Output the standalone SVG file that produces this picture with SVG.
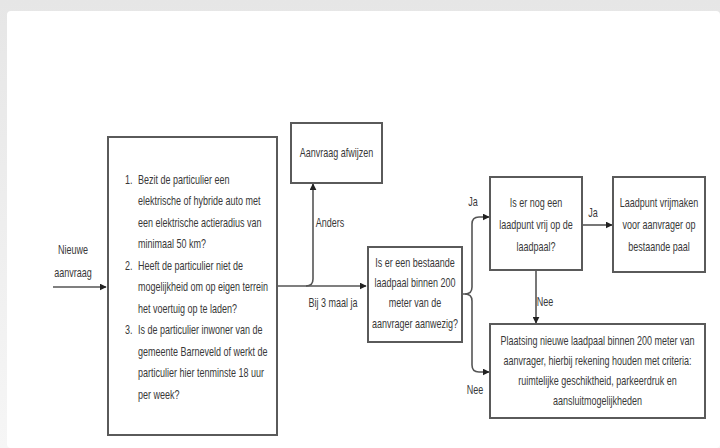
<svg xmlns="http://www.w3.org/2000/svg" width="720" height="448" viewBox="0 0 720 448">
<defs>
<marker id="ah" viewBox="0 0 10 10" refX="9" refY="5" markerWidth="7" markerHeight="7" orient="auto" markerUnits="userSpaceOnUse"><path d="M0,0 L10,5 L0,10 z" fill="#222"/></marker>
<linearGradient id="tg" x1="0" y1="0" x2="0" y2="1"><stop offset="0" stop-color="#e6e6e6"/><stop offset="1" stop-color="#f6f6f6"/></linearGradient>
<style>
.box{fill:#fff;stroke:#5a5a5a;stroke-width:2}
.t{font-family:"Liberation Sans",Arial,sans-serif;font-size:12.5px;fill:#383838}
.c{text-anchor:middle}
.ln{fill:none;stroke:#555;stroke-width:1.6}
</style>
</defs>
<rect x="0" y="0" width="720" height="448" fill="url(#tg)"/>
<rect x="7" y="11" width="713" height="437" rx="4" fill="#fff"/>

<g id="connectors">
<path class="ln" d="M53,287 L106,287" marker-end="url(#ah)"/>
<path class="ln" d="M277,286 L366,286" marker-end="url(#ah)"/>
<path class="ln" d="M306,286 Q313,286 313,279 L313,184" marker-end="url(#ah)"/>
<path class="ln" d="M462,294 L465,294 Q472,294 472,287 L472,224 Q472,217 479,217 L489,217" marker-end="url(#ah)"/>
<path class="ln" d="M465,294 Q472,294 472,301 L472,365 Q472,372 479,372 L489,372" marker-end="url(#ah)"/>
<path class="ln" d="M582,225 L612,225" marker-end="url(#ah)"/>
<path class="ln" d="M536,270 L536,323" marker-end="url(#ah)"/>
<g class="t">
<g transform="translate(73,0) scale(0.72,1)"><text class="c" x="0" y="254">Nieuwe</text><text class="c" x="0" y="277">aanvraag</text></g>
<g transform="translate(330,0) scale(0.72,1)"><text class="c" x="0" y="227">Anders</text></g>
<g transform="translate(333,0) scale(0.72,1)"><text class="c" x="0" y="307">Bij 3 maal ja</text></g>
<g transform="translate(473,0) scale(0.72,1)"><text class="c" x="0" y="206">Ja</text></g>
<g transform="translate(475,0) scale(0.72,1)"><text class="c" x="0" y="394">Nee</text></g>
<g transform="translate(593,0) scale(0.72,1)"><text class="c" x="0" y="217">Ja</text></g>
<g transform="translate(545,0) scale(0.72,1)"><text class="c" x="0" y="306">Nee</text></g>
</g>
</g>

<g id="node-criteria">
<rect class="box" x="108" y="137" width="169" height="298"/>
<g class="t" transform="translate(138,0) scale(0.72,1)">
<text x="-18" y="184">1.</text><text x="0" y="184">Bezit de particulier een</text>
<text x="0" y="205.5">elektrische of hybride auto met</text>
<text x="0" y="227">een elektrische actieradius van</text>
<text x="0" y="248.5">minimaal 50 km?</text>
<text x="-18" y="270">2.</text><text x="0" y="270">Heeft de particulier niet de</text>
<text x="0" y="291.5">mogelijkheid om op eigen terrein</text>
<text x="0" y="313">het voertuig op te laden?</text>
<text x="-18" y="334.5">3.</text><text x="0" y="334.5">Is de particulier inwoner van de</text>
<text x="0" y="356">gemeente Barneveld of werkt de</text>
<text x="0" y="377.5">particulier hier tenminste 18 uur</text>
<text x="0" y="399">per week?</text>
</g>
</g>

<g id="node-afwijzen">
<rect class="box" x="291" y="123" width="91" height="60"/>
<g class="t" transform="translate(336.5,0) scale(0.72,1)"><text class="c" x="0" y="157">Aanvraag afwijzen</text></g>
</g>

<g id="node-bestaande">
<rect class="box" x="368" y="247" width="94" height="95"/>
<g class="t" transform="translate(415,0) scale(0.72,1)">
<text class="c" x="0" y="267">Is er een bestaande</text>
<text class="c" x="0" y="287">laadpaal binnen 200</text>
<text class="c" x="0" y="307">meter van de</text>
<text class="c" x="0" y="328">aanvrager aanwezig?</text>
</g>
</g>

<g id="node-laadpunt-vrij">
<rect class="box" x="490" y="177" width="92" height="93"/>
<g class="t" transform="translate(536,0) scale(0.72,1)">
<text class="c" x="0" y="207">Is er nog een</text>
<text class="c" x="0" y="229">laadpunt vrij op de</text>
<text class="c" x="0" y="251">laadpaal?</text>
</g>
</g>

<g id="node-vrijmaken">
<rect class="box" x="613" y="177" width="92" height="95"/>
<g class="t" transform="translate(659,0) scale(0.72,1)">
<text class="c" x="0" y="207">Laadpunt vrijmaken</text>
<text class="c" x="0" y="229">voor aanvrager op</text>
<text class="c" x="0" y="251">bestaande paal</text>
</g>
</g>

<g id="node-plaatsing">
<rect class="box" x="490" y="324" width="215" height="94"/>
<g class="t" transform="translate(597.5,0) scale(0.72,1)">
<text class="c" x="0" y="345">Plaatsing nieuwe laadpaal binnen 200 meter van</text>
<text class="c" x="0" y="365">aanvrager, hierbij rekening houden met criteria:</text>
<text class="c" x="0" y="385">ruimtelijke geschiktheid, parkeerdruk en</text>
<text class="c" x="0" y="405">aansluitmogelijkheden</text>
</g>
</g>
</svg>
